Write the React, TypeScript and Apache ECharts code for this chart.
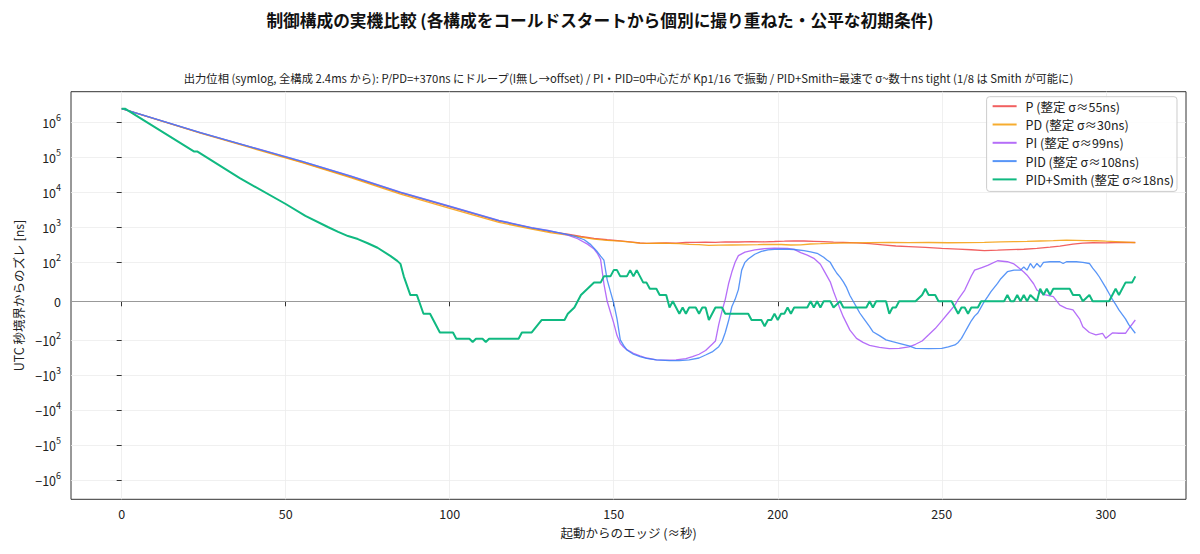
import React, { useEffect, useRef } from "react";
import * as echarts from "echarts";

const FONT = '"Noto Sans CJK JP", "Noto Sans", sans-serif';

const TITLE = "制御構成の実機比較 (各構成をコールドスタートから個別に撮り重ねた・公平な初期条件)";
const SUBTITLE =
  "出力位相 (symlog, 全構成 2.4ms から): P/PD=+370ns にドループ(I無し→offset) / PI・PID=0中心だが Kp1/16 で振動 / PID+Smith=最速で σ~数十ns tight (1/8 は Smith が可能に)";
const X_NAME = "起動からのエッジ (≈秒)";
const Y_NAME = "UTC 秒境界からのズレ [ns]";

const seriesNames = [
  "P (整定 σ≈55ns)",
  "PD (整定 σ≈30ns)",
  "PI (整定 σ≈99ns)",
  "PID (整定 σ≈108ns)",
  "PID+Smith (整定 σ≈18ns)",
];
const seriesColors = ["#ef4444", "#f59e0b", "#a855f7", "#3b82f6", "#10b981"];

const xTicks = [0, 50, 100, 150, 200, 250, 300];
const yTickValues = [-1e6, -1e5, -1e4, -1e3, -1e2, 0, 1e2, 1e3, 1e4, 1e5, 1e6];

// [edge (s), offset (ns)]
const pData: [number, number][] = [
  [0, 2400000], [24, 490000], [39, 195000], [55, 72000], [70, 27000], [85, 9500], [100, 3800],
  [115, 1500], [125, 950], [131, 740], [136, 640], [140, 545], [144, 480], [148, 440], [152, 410],
  [155, 385], [158, 356], [160, 345], [163, 352], [166, 360], [169, 355], [172, 368], [175, 372],
  [178, 377], [181, 372], [184, 382], [188, 380], [192, 388], [196, 385], [199, 392], [202, 400],
  [205, 410], [208, 405], [211, 398], [214, 390], [217, 378], [220, 370], [224, 360], [228, 340],
  [232, 315], [236, 292], [240, 282], [245, 268], [250, 250], [255, 238], [259, 228], [263, 216],
  [267, 222], [271, 230], [275, 236], [279, 250], [283, 270], [286, 290], [290, 330], [293, 355],
  [296, 362], [300, 358], [303, 368], [306, 372], [309, 368],
];

const pdData: [number, number][] = [
  [0, 2400000], [24, 480000], [39, 188000], [55, 69000], [70, 25500], [85, 8800], [100, 3450],
  [115, 1380], [125, 880], [131, 690], [136, 600], [140, 520], [144, 460], [148, 425], [152, 400],
  [155, 378], [158, 352], [161, 345], [164, 350], [167, 348], [170, 340], [173, 325], [176, 318],
  [179, 305], [182, 308], [186, 312], [190, 315], [194, 320], [198, 326], [201, 322], [204, 312],
  [207, 315], [210, 333], [213, 340], [216, 348], [219, 355], [223, 360], [228, 365], [234, 369],
  [240, 365], [246, 368], [252, 362], [258, 365], [263, 372], [268, 382], [272, 390], [276, 395],
  [280, 405], [284, 415], [288, 428], [291, 425], [294, 418], [297, 412], [300, 400], [303, 390],
  [306, 378], [309, 365],
];

const piData: [number, number][] = [
  [0, 2400000], [24, 500000], [39, 200000], [55, 76000], [70, 28500], [85, 10000], [100, 4000],
  [115, 1580], [125, 980], [130, 810], [133, 700], [136, 600], [139, 470], [142, 330], [144, 240],
  [145, 181], [146, 120], [147, 45], [148, 0], [149, -28], [150, -56], [151, -88], [152, -122],
  [153, -155], [154, -185], [156, -235], [158, -280], [160, -320], [163, -362], [166, -370],
  [169, -362], [172, -335], [174, -294], [176, -250], [178, -195], [180, -130], [181, -105],
  [182, -60], [183, -25], [184, 5], [185, 45], [186, 75], [187, 100], [188, 155], [190, 195],
  [193, 225], [196, 245], [199, 252], [203, 250], [205, 235], [207, 190], [209, 160], [211, 130],
  [213, 95], [214, 80], [216, 50], [217, 25], [218, 3], [219, -20], [220, -40], [222, -74],
  [224, -95], [226, -115], [228, -140], [231, -160], [234, -172], [237, -170], [240, -155],
  [242, -130], [244, -105], [246, -86], [248, -70], [250, -50], [252, -30], [254, -10], [255, 5],
  [257, 29], [259, 65], [260, 80], [262, 86], [264, 92], [267, 111], [270, 104], [272, 96],
  [273, 89], [275, 75], [276, 67], [278, 45], [279, 29], [281, 18], [284, 12], [286, -10],
  [288, -18], [290, -22], [292, -45], [293, -65], [295, -80], [297, -86], [299, -82], [300, -95],
  [302, -81], [304, -82], [306, -82], [307, -70], [309, -48],
];

const pidData: [number, number][] = [
  [0, 2400000], [24, 495000], [39, 198000], [55, 75000], [70, 28000], [85, 9900], [100, 3950],
  [115, 1550], [125, 960], [130, 800], [135, 650], [138, 560], [141, 440], [143, 320], [145, 200],
  [146, 150], [147, 116], [148, 55], [149, 25], [150, -5], [151, -45], [152, -99], [153, -140],
  [154, -189], [156, -250], [158, -294], [160, -330], [163, -362], [167, -378], [170, -380],
  [173, -362], [176, -320], [178, -263], [180, -215], [182, -152], [183, -110], [184, -80],
  [185, -50], [186, -14], [187, 5], [188, 30], [189, 80], [190, 100], [191, 125], [193, 170],
  [195, 205], [197, 225], [199, 235], [202, 238], [205, 232], [208, 215], [210, 200], [212, 181],
  [214, 140], [215, 116], [216, 100], [217, 85], [218, 72], [219, 62], [220, 50], [221, 35],
  [222, 15], [223, 0], [224, -15], [225, -30], [226, -42], [228, -65], [229, -78], [231, -88],
  [233, -99], [235, -110], [237, -122], [240, -145], [242, -170], [246, -172], [250, -170],
  [252, -155], [254, -136], [255, -115], [256, -95], [257, -80], [258, -65], [259, -50],
  [260, -38], [261, -30], [262, -15], [263, 0], [264, 12], [265, 25], [267, 46], [268, 58],
  [270, 76], [272, 80], [274, 80], [275, 88], [276, 80], [277, 97], [278, 85], [279, 97],
  [280, 88], [281, 100], [283, 104], [286, 104], [287, 97], [288, 104], [291, 104], [293, 100],
  [295, 97], [296, 85], [297, 75], [298, 63], [300, 35], [301, 20], [302, 5], [303, -8],
  [304, -22], [306, -45], [307, -60], [309, -82],
];

const smithData: [number, number][] = [
  [0, 2400000], [1, 2400000], [22, 145000], [23, 145000], [36, 25000], [50, 4600], [56, 2100],
  [63, 1000], [66, 740], [69, 560], [72, 460], [75, 350], [78, 260], [82, 150], [84, 110],
  [85, 96], [86, 64], [88, 16], [90, 16], [92, -32], [94, -32], [97, -80], [101, -80], [102, -96],
  [106, -96], [107, -112], [108, -96], [110, -96], [111, -112], [112, -96], [121, -96], [122, -80],
  [125, -80], [128, -48], [135, -48], [136, -32], [138, -16], [139, 0], [140, 16], [142, 32],
  [144, 48], [146, 48], [147, 64], [149, 64], [150, 80], [151, 80], [152, 64], [154, 64],
  [155, 80], [156, 64], [157, 80], [158, 64], [159, 48], [160, 48], [161, 32], [163, 32],
  [164, 16], [166, 16], [167, -16], [168, 0], [170, -32], [171, -16], [172, -32], [173, -16],
  [175, -16], [176, -32], [177, -16], [178, -16], [179, -48], [180, -32], [181, -16], [183, -16],
  [184, -32], [191, -32], [192, -48], [195, -48], [196, -64], [197, -48], [198, -48], [199, -32],
  [200, -48], [201, -32], [202, -32], [203, -16], [204, -32], [205, -16], [209, -16], [210, 0],
  [211, -16], [212, 0], [213, -16], [214, 0], [216, 0], [217, -16], [219, 0], [220, -16],
  [227, -16], [228, 0], [229, -16], [230, 0], [233, 0], [234, -32], [235, -16], [236, -16],
  [237, 0], [242, 0], [244, 16], [245, 32], [246, 16], [248, 16], [249, 0], [253, 0], [254, -16],
  [255, -32], [256, -16], [257, -16], [258, -32], [259, -16], [261, -16], [262, 0], [269, 0],
  [270, 16], [271, 0], [272, 0], [273, 16], [274, 0], [275, 16], [276, 0], [277, 16], [279, 0],
  [280, 32], [281, 16], [282, 32], [283, 16], [284, 32], [289, 32], [290, 16], [292, 16],
  [293, 0], [295, 16], [296, 0], [301, 0], [302, 16], [303, 32], [304, 16], [306, 48], [308, 48],
  [309, 64],
];

const allData = [pData, pdData, piData, pidData, smithData];
const lineWidths = [1.3, 1.3, 1.3, 1.3, 2];
const lineOpacity = [0.85, 0.85, 0.85, 0.85, 1];

// matplotlib-style symlog (base 10, linthresh 100, linscale 1)
const LINTHRESH = 100;
const LINSCALE_ADJ = 1 / (1 - 1 / 10);
function symlog(v: number): number {
  const a = Math.abs(v);
  if (a <= LINTHRESH) return (v / LINTHRESH) * LINSCALE_ADJ;
  return Math.sign(v) * (LINSCALE_ADJ + Math.log10(a / LINTHRESH));
}

const yTickPositions = yTickValues.map(symlog);

function yLabel(pos: number): string {
  let best = 0;
  for (let i = 1; i < yTickPositions.length; i++) {
    if (Math.abs(yTickPositions[i] - pos) < Math.abs(yTickPositions[best] - pos)) best = i;
  }
  const v = yTickValues[best];
  if (v === 0) return "{b|0}";
  const e = Math.round(Math.log10(Math.abs(v)));
  return `{b|${v < 0 ? "\u221210" : "10"}}{s|${e}}`;
}

export default function App() {
  const ref = useRef<HTMLDivElement>(null);

  useEffect(() => {
    if (!ref.current) return;
    const chart = echarts.init(ref.current, null, { renderer: "svg" });

    const series: any[] = allData.map((d, i) => ({
      name: seriesNames[i],
      type: "line",
      data: d.map(([x, v]) => [x, symlog(v)]),
      showSymbol: false,
      symbol: "none",
      lineStyle: { color: seriesColors[i], width: lineWidths[i], opacity: lineOpacity[i] },
      itemStyle: { color: seriesColors[i], opacity: lineOpacity[i] },
      z: 3 + i,
      silent: true,
    }));
    series[0].markLine = {
      silent: true,
      symbol: "none",
      label: { show: false },
      lineStyle: { color: "#999999", width: 1.2, type: "solid" },
      data: [{ yAxis: 0 }],
      z: 2,
    };

    const option: any = {
      animation: false,
      backgroundColor: "#ffffff",
      textStyle: { fontFamily: FONT, color: "#222" },
      title: [
        {
          text: TITLE,
          left: "center",
          top: 10,
          padding: 0,
          textStyle: { fontFamily: FONT, fontSize: 16.7, fontWeight: "bold", color: "#111", lineHeight: 20 },
        },
        {
          text: SUBTITLE,
          left: 628.5,
          textAlign: "center",
          top: 71,
          padding: 0,
          textStyle: { fontFamily: FONT, fontSize: 11.3, fontWeight: "normal", color: "#222", lineHeight: 14 },
        },
      ],
      legend: {
        orient: "vertical",
        right: 23,
        top: 96.7,
        padding: [2.5, 3, 5, 5],
        itemGap: 4.3,
        itemWidth: 24,
        itemHeight: 2,
        itemStyle: { opacity: 0, borderWidth: 0 },
        borderColor: "#cccccc",
        borderWidth: 1,
        borderRadius: 3,
        backgroundColor: "rgba(255,255,255,0.85)",
        data: seriesNames,
        textStyle: { fontFamily: FONT, fontSize: 12.5, color: "#222", lineHeight: 14, padding: [0, 0, 0, 4] },
      },
      grid: {
        left: 71,
        right: 14,
        top: 91.7,
        bottom: 54.7,
        show: true,
        borderColor: "#333333",
        borderWidth: 1,
        backgroundColor: "transparent",
        containLabel: false,
        outerBoundsMode: "none",
      },
      xAxis: {
        type: "value",
        min: -15.45,
        max: 324.45,
        name: X_NAME,
        nameLocation: "middle",
        nameGap: 27,
        nameTextStyle: { fontFamily: FONT, fontSize: 12.5, color: "#222" },
        axisLine: { show: false },
        axisTick: { show: true, length: 5, lineStyle: { color: "#333" }, customValues: xTicks },
        axisLabel: {
          show: true,
          margin: 8,
          fontFamily: FONT,
          fontSize: 12.5,
          color: "#222",
          customValues: xTicks,
          formatter: (v: number) => String(Math.round(v)),
        },
        splitLine: { show: true, lineStyle: { color: "#ececec", width: 0.8 } },
      },
      yAxis: {
        type: "value",
        min: -5.644,
        max: 5.975,
        name: Y_NAME,
        nameLocation: "middle",
        nameGap: 44,
        nameTextStyle: { fontFamily: FONT, fontSize: 12.5, color: "#222" },
        axisLine: { show: false },
        axisTick: { show: true, length: 5, lineStyle: { color: "#333" }, customValues: yTickPositions },
        axisLabel: {
          show: true,
          margin: 10,
          align: "right",
          customValues: yTickPositions,
          formatter: (v: number) => yLabel(v),
          rich: {
            b: { fontFamily: FONT, fontSize: 12.5, color: "#222", lineHeight: 19 },
            s: { fontFamily: FONT, fontSize: 9, color: "#222", lineHeight: 9, verticalAlign: "top" },
          },
        },
        splitLine: { show: true, lineStyle: { color: "#ececec", width: 0.8 } },
      },
      series,
    };

    chart.setOption(option);
    return () => chart.dispose();
  }, []);

  return (
    <div
      ref={ref}
      style={{ position: "fixed", left: 0, top: 0, width: 1200, height: 554, background: "#fff" }}
    />
  );
}
